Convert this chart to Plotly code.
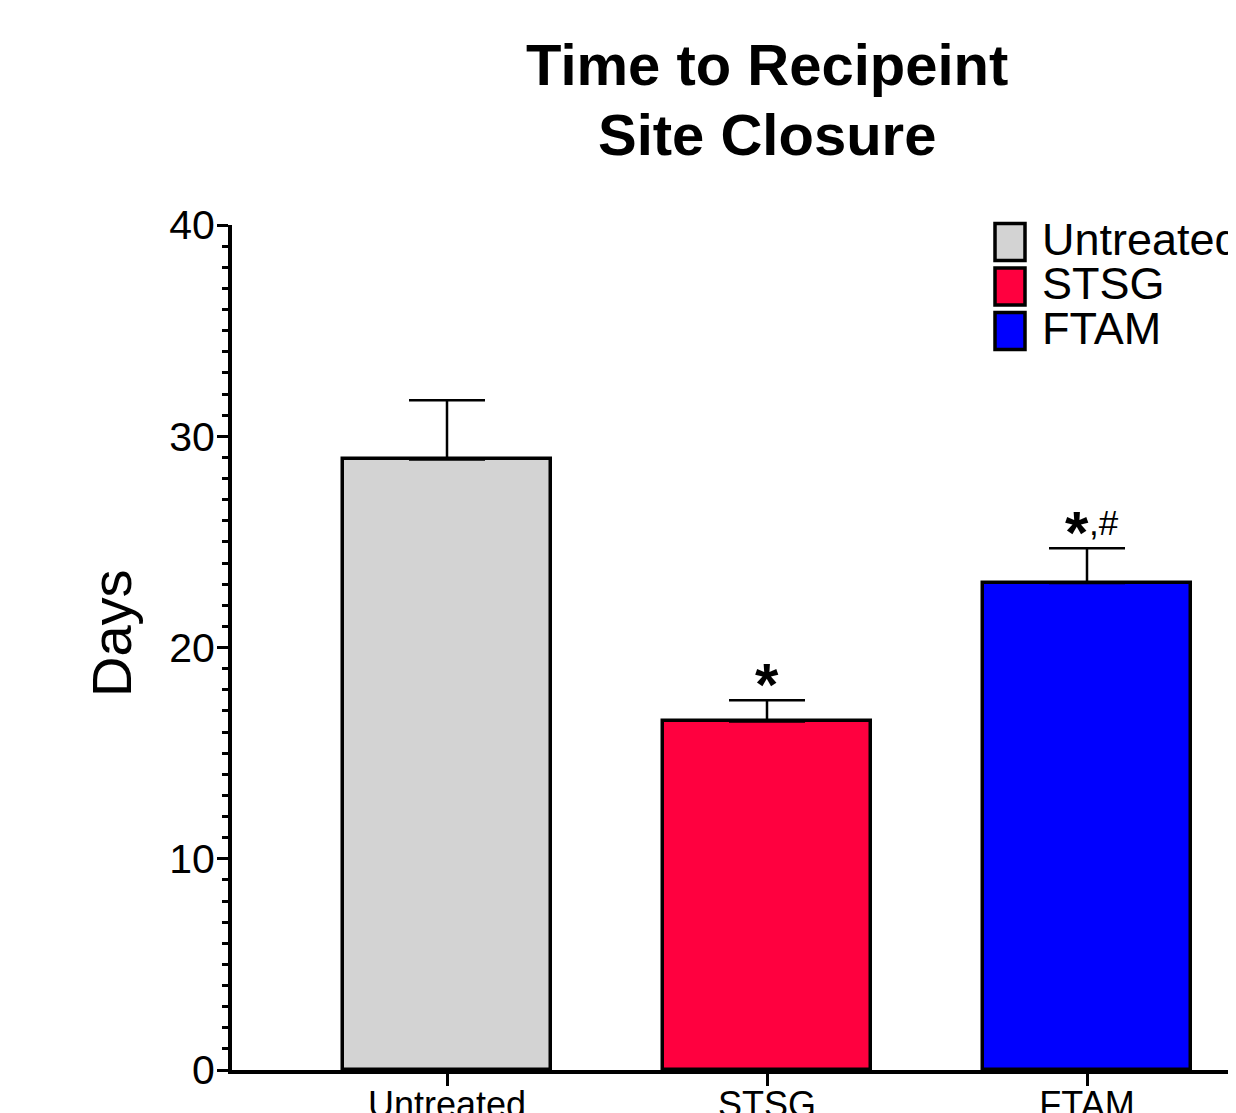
import plotly.graph_objects as go

categories = ["Untreated", "STSG", "FTAM"]
means = [28.9, 16.5, 23.05]
sem = [2.8, 1.0, 1.65]
colors = ["#d3d3d3", "#ff003f", "#0000ff"]
sig_star = ["", "*", "*"]
sig_extra = ["", "", ",#"]
y_ticks = [0, 10, 20, 30, 40]

FONT = "Arial, Liberation Sans, Helvetica, sans-serif"
PAGE_OFF = 8  # page body margin
W, H = 1236, 1113
L, R, T, B = 224, 0, 217, 51
plot_w = W - L - R
plot_h = H - T - B
PL = L + PAGE_OFF
PT = T + PAGE_OFF


def px_x(px):
    return (px - PL) / plot_w


def px_y(py):
    return 1 - (py - PT) / plot_h


fig = go.Figure()
fig.add_trace(go.Bar(
    x=categories, y=means, width=0.653,
    marker=dict(color=colors, line=dict(color="black", width=3.5)),
    error_y=dict(type="data", symmetric=False, array=sem,
                 arrayminus=[0] * len(sem), color="black",
                 thickness=2.5, width=38),
    showlegend=False,
))

annotations = []
# significance markers
for i, c in enumerate(categories):
    if sig_star[i]:
        annotations.append(dict(
            x=c, y=means[i] + sem[i], xref="x", yref="y",
            text="<b>" + sig_star[i] + "</b>", showarrow=False,
            yanchor="bottom", yshift=-20,
            xshift=0 if not sig_extra[i] else -10,
            font=dict(family=FONT, size=60, color="black"),
        ))
    if sig_extra[i]:
        annotations.append(dict(
            x=c, y=means[i] + sem[i], xref="x", yref="y",
            text=sig_extra[i], showarrow=False,
            xanchor="left", yanchor="bottom", yshift=4, xshift=0,
            font=dict(family=FONT, size=35, color="black"),
        ))

# manual legend
shapes = []
for i, c in enumerate(categories):
    cy = 242 + i * 44.5
    shapes.append(dict(type="rect", xref="paper", yref="paper",
                       x0=px_x(995), x1=px_x(1025),
                       y0=px_y(cy + 18.5), y1=px_y(cy - 18.5),
                       fillcolor=colors[i], line=dict(color="black", width=3.5)))
    annotations.append(dict(
        x=px_x(1040), y=px_y(cy - 3), xref="paper", yref="paper",
        text=c, showarrow=False, xanchor="left", yanchor="middle",
        font=dict(family=FONT, size=45, color="black"),
    ))

# y-axis title
annotations.append(dict(
    x=px_x(111), y=px_y(633), xref="paper", yref="paper",
    text="Days", textangle=-90, showarrow=False,
    xanchor="center", yanchor="middle",
    font=dict(family=FONT, size=56, color="black"),
))

# title lines
annotations.append(dict(
    x=px_x(767), y=px_y(65), xref="paper", yref="paper",
    text="<b>Time to Recipeint</b>", showarrow=False,
    xanchor="center", yanchor="middle",
    font=dict(family=FONT, size=58, color="black"),
))
annotations.append(dict(
    x=px_x(767), y=px_y(135), xref="paper", yref="paper",
    text="<b>Site Closure</b>", showarrow=False,
    xanchor="center", yanchor="middle",
    font=dict(family=FONT, size=58, color="black"),
))

fig.update_layout(
    template="none",
    width=W, height=H,
    margin=dict(l=L, r=R, t=T, b=B, pad=0, autoexpand=False),
    paper_bgcolor="white", plot_bgcolor="white",
    font=dict(family=FONT, color="black"),
    annotations=annotations, shapes=shapes,
    bargap=0, showlegend=False,
)
fig.update_xaxes(
    range=[-(447 - PL) / 320, -(447 - PL) / 320 + plot_w / 320],
    showline=True, linecolor="black", linewidth=4,
    ticks="outside", ticklen=12, tickwidth=3, tickcolor="black",
    tickfont=dict(family=FONT, size=36, color="black"), ticklabelstandoff=-12,
    showgrid=False, zeroline=False, automargin=False,
)
fig.update_yaxes(
    range=[0, 40], tickvals=y_ticks, showline=True, linecolor="black", linewidth=4,
    ticks="outside", ticklen=11, tickwidth=3, tickcolor="black",
    tickfont=dict(family=FONT, size=41, color="black"), ticklabelstandoff=-6,
    minor=dict(dtick=1, ticks="outside", ticklen=6, tickwidth=3, tickcolor="black"),
    showgrid=False, zeroline=False, automargin=False,
)

fig.write_html("out.html")
